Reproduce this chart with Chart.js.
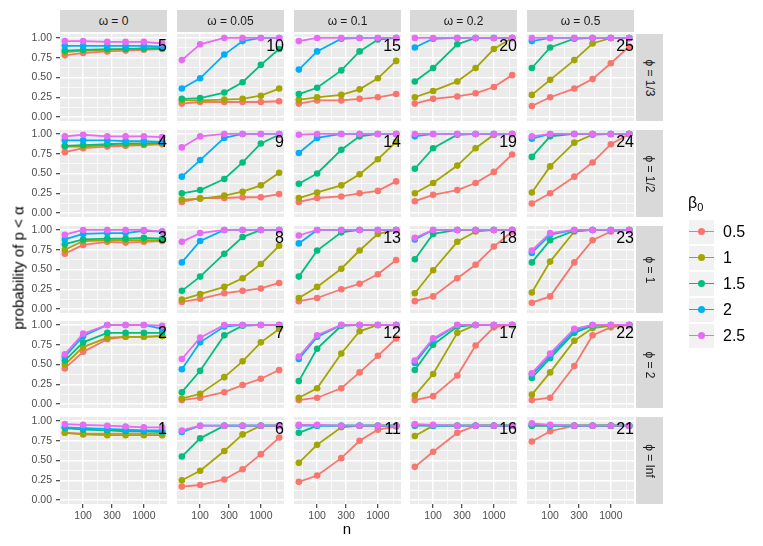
<!DOCTYPE html>
<html>
<head>
<meta charset="utf-8">
<script src="https://cdn.jsdelivr.net/npm/chart.js@4.4.1/dist/chart.umd.min.js"></script>
<style>
  body { margin: 0; background: #fff; font-family: "Liberation Sans", Arial, sans-serif; }
  #wrap { position: relative; width: 763px; height: 546px; overflow: hidden; }
  #wrap canvas { position: absolute; }
  .strip { position: absolute; background: #D9D9D9; color: #1A1A1A; font-size: 12px;
           display: flex; align-items: center; justify-content: center; white-space: nowrap; }
  .strip.side span { transform: rotate(90deg); }
  .title { position: absolute; color: #000; font-size: 15px; white-space: nowrap; }
  .key { position: absolute; left: 689px; width: 25px; height: 24px; background: #F2F2F2; }
  .key .ln { position: absolute; left: 0; right: 0; top: 11.1px; height: 1.8px; }
  .key .pt { position: absolute; left: 9px; top: 8.5px; width: 7px; height: 7px; border-radius: 50%; }
  .klab { position: absolute; left: 723px; font-size: 16px; color: #000; }
</style>
</head>
<body>
<div id="wrap"></div>
<script>
// facets, x values and legend entries
const omegaLabels = ['ω = 0', 'ω = 0.05', 'ω = 0.1', 'ω = 0.2', 'ω = 0.5'];
const phiLabels = ['ϕ = 1/3', 'ϕ = 1/2', 'ϕ = 1', 'ϕ = 2', 'ϕ = Inf'];
const nValues = [50, 100, 250, 500, 1000, 2000];
const betaLabels = ['0.5', '1', '1.5', '2', '2.5'];
const xTicks = [100, 300, 1000];
const yTicks = [0, 0.25, 0.5, 0.75, 1];
const yTickLabels = ['0.00', '0.25', '0.50', '0.75', '1.00'];

// one array per panel (panel number), rows are beta0 = 0.5, 1, 1.5, 2, 2.5
const p1 = [
  [0.85, 0.84, 0.84, 0.84, 0.84, 0.84],
  [0.85, 0.83, 0.82, 0.82, 0.82, 0.82],
  [0.91, 0.89, 0.88, 0.87, 0.87, 0.86],
  [0.92, 0.91, 0.90, 0.89, 0.88, 0.88],
  [0.96, 0.95, 0.94, 0.93, 0.92, 0.92]];
const p2 = [
  [0.45, 0.66, 0.82, 0.85, 0.85, 0.86],
  [0.50, 0.72, 0.84, 0.85, 0.85, 0.86],
  [0.55, 0.78, 0.90, 0.90, 0.90, 0.90],
  [0.60, 0.86, 1.00, 1.00, 1.00, 0.95],
  [0.63, 0.89, 1.00, 1.00, 1.00, 0.99]];
const p3 = [
  [0.70, 0.81, 0.85, 0.84, 0.85, 0.86],
  [0.75, 0.86, 0.87, 0.87, 0.87, 0.87],
  [0.82, 0.88, 0.89, 0.89, 0.90, 0.89],
  [0.88, 0.95, 0.96, 0.96, 0.99, 0.98],
  [0.94, 1.00, 1.00, 1.00, 1.00, 0.98]];
const p4 = [
  [0.77, 0.82, 0.84, 0.85, 0.86, 0.87],
  [0.84, 0.84, 0.86, 0.86, 0.87, 0.88],
  [0.85, 0.86, 0.87, 0.88, 0.88, 0.89],
  [0.92, 0.92, 0.92, 0.91, 0.91, 0.90],
  [0.97, 0.99, 0.97, 0.97, 0.97, 0.96]];
const p5 = [
  [0.78, 0.81, 0.83, 0.84, 0.85, 0.86],
  [0.82, 0.84, 0.85, 0.86, 0.86, 0.87],
  [0.84, 0.85, 0.86, 0.86, 0.87, 0.87],
  [0.90, 0.90, 0.90, 0.90, 0.90, 0.89],
  [0.96, 0.96, 0.95, 0.95, 0.95, 0.93]];
const p6 = [
  [0.17, 0.19, 0.26, 0.39, 0.58, 0.79],
  [0.25, 0.37, 0.62, 0.83, 0.94, 0.94],
  [0.55, 0.78, 0.94, 0.94, 0.94, 0.94],
  [0.86, 0.94, 0.94, 0.94, 0.94, 0.94],
  [0.88, 0.94, 0.94, 0.94, 0.94, 0.94]];
const p7 = [
  [0.05, 0.08, 0.15, 0.24, 0.32, 0.43],
  [0.07, 0.13, 0.34, 0.54, 0.78, 0.95],
  [0.15, 0.42, 0.87, 0.99, 1.00, 1.00],
  [0.44, 0.78, 0.98, 1.00, 1.00, 1.00],
  [0.57, 0.84, 1.00, 1.00, 1.00, 1.00]];
const p8 = [
  [0.09, 0.13, 0.20, 0.23, 0.26, 0.33],
  [0.12, 0.19, 0.28, 0.39, 0.57, 0.80],
  [0.23, 0.41, 0.70, 0.91, 1.00, 1.00],
  [0.59, 0.86, 1.00, 1.00, 1.00, 1.00],
  [0.85, 0.96, 1.00, 1.00, 1.00, 1.00]];
const p9 = [
  [0.14, 0.19, 0.19, 0.20, 0.20, 0.24],
  [0.17, 0.18, 0.22, 0.27, 0.35, 0.51],
  [0.25, 0.29, 0.43, 0.64, 0.88, 0.99],
  [0.46, 0.67, 0.95, 1.00, 1.00, 1.00],
  [0.83, 0.97, 1.00, 1.00, 1.00, 1.00]];
const p10 = [
  [0.17, 0.19, 0.19, 0.19, 0.19, 0.20],
  [0.21, 0.21, 0.22, 0.23, 0.27, 0.36],
  [0.23, 0.24, 0.31, 0.44, 0.66, 0.86],
  [0.36, 0.49, 0.79, 0.96, 1.00, 1.00],
  [0.72, 0.92, 1.00, 1.00, 1.00, 1.00]];
const p11 = [
  [0.23, 0.31, 0.53, 0.75, 0.89, 0.93],
  [0.47, 0.70, 0.92, 0.94, 0.94, 0.94],
  [0.85, 0.94, 0.94, 0.94, 0.94, 0.94],
  [0.94, 0.94, 0.94, 0.94, 0.94, 0.94],
  [0.95, 0.95, 0.94, 0.94, 0.94, 0.94]];
const p12 = [
  [0.05, 0.08, 0.20, 0.40, 0.61, 0.83],
  [0.08, 0.20, 0.64, 0.92, 1.00, 1.00],
  [0.29, 0.70, 0.99, 1.00, 1.00, 1.00],
  [0.57, 0.85, 1.00, 1.00, 1.00, 1.00],
  [0.60, 0.87, 1.00, 1.00, 1.00, 1.00]];
const p13 = [
  [0.10, 0.14, 0.25, 0.32, 0.44, 0.62],
  [0.14, 0.28, 0.51, 0.74, 0.95, 1.00],
  [0.41, 0.74, 0.97, 1.00, 1.00, 1.00],
  [0.83, 1.00, 1.00, 1.00, 1.00, 1.00],
  [0.93, 1.00, 1.00, 1.00, 1.00, 1.00]];
const p14 = [
  [0.14, 0.19, 0.21, 0.25, 0.28, 0.40],
  [0.19, 0.26, 0.35, 0.49, 0.68, 0.90],
  [0.37, 0.50, 0.80, 0.97, 1.00, 1.00],
  [0.76, 0.95, 1.00, 1.00, 1.00, 1.00],
  [0.99, 1.00, 1.00, 1.00, 1.00, 1.00]];
const p15 = [
  [0.17, 0.21, 0.21, 0.23, 0.25, 0.29],
  [0.22, 0.25, 0.28, 0.35, 0.49, 0.71],
  [0.29, 0.37, 0.59, 0.83, 0.98, 1.00],
  [0.60, 0.83, 0.99, 1.00, 1.00, 1.00],
  [0.96, 1.00, 1.00, 1.00, 1.00, 1.00]];
const p16 = [
  [0.42, 0.61, 0.85, 0.94, 0.94, 0.94],
  [0.81, 0.94, 0.94, 0.94, 0.94, 0.94],
  [0.94, 0.94, 0.94, 0.94, 0.94, 0.94],
  [0.95, 0.94, 0.94, 0.94, 0.94, 0.94],
  [0.96, 0.95, 0.94, 0.94, 0.94, 0.94]];
const p17 = [
  [0.05, 0.10, 0.36, 0.74, 0.97, 1.00],
  [0.11, 0.38, 0.90, 1.00, 1.00, 1.00],
  [0.43, 0.75, 0.98, 1.00, 1.00, 1.00],
  [0.52, 0.81, 1.00, 1.00, 1.00, 1.00],
  [0.55, 0.83, 1.00, 1.00, 1.00, 1.00]];
const p18 = [
  [0.10, 0.16, 0.39, 0.56, 0.79, 0.98],
  [0.20, 0.49, 0.85, 0.98, 1.00, 1.00],
  [0.63, 0.95, 1.00, 1.00, 1.00, 1.00],
  [0.88, 1.00, 1.00, 1.00, 1.00, 1.00],
  [0.90, 1.00, 1.00, 1.00, 1.00, 1.00]];
const p19 = [
  [0.15, 0.23, 0.29, 0.38, 0.52, 0.74],
  [0.25, 0.38, 0.60, 0.82, 0.99, 1.00],
  [0.56, 0.82, 0.99, 1.00, 1.00, 1.00],
  [0.97, 1.00, 1.00, 1.00, 1.00, 1.00],
  [1.00, 1.00, 1.00, 1.00, 1.00, 1.00]];
const p20 = [
  [0.17, 0.23, 0.26, 0.30, 0.38, 0.53],
  [0.25, 0.33, 0.45, 0.62, 0.86, 1.00],
  [0.45, 0.62, 0.92, 1.00, 1.00, 1.00],
  [0.88, 0.99, 1.00, 1.00, 1.00, 1.00],
  [1.00, 1.00, 1.00, 1.00, 1.00, 1.00]];
const p21 = [
  [0.74, 0.87, 0.94, 0.94, 0.94, 0.94],
  [0.94, 0.94, 0.94, 0.94, 0.94, 0.94],
  [0.94, 0.94, 0.94, 0.94, 0.94, 0.94],
  [0.95, 0.94, 0.94, 0.94, 0.94, 0.94],
  [0.97, 0.95, 0.94, 0.94, 0.94, 0.94]];
const p22 = [
  [0.05, 0.08, 0.48, 0.87, 0.97, 1.00],
  [0.12, 0.40, 0.80, 0.96, 0.99, 1.00],
  [0.33, 0.58, 0.90, 0.99, 1.00, 1.00],
  [0.37, 0.61, 0.93, 1.00, 1.00, 1.00],
  [0.39, 0.64, 0.95, 1.00, 1.00, 1.00]];
const p23 = [
  [0.08, 0.16, 0.59, 0.87, 0.98, 1.00],
  [0.21, 0.60, 0.98, 1.00, 1.00, 1.00],
  [0.59, 0.87, 0.99, 1.00, 1.00, 1.00],
  [0.71, 0.94, 1.00, 1.00, 1.00, 1.00],
  [0.74, 0.96, 1.00, 1.00, 1.00, 1.00]];
const p24 = [
  [0.12, 0.25, 0.46, 0.64, 0.87, 1.00],
  [0.26, 0.59, 0.89, 0.99, 1.00, 1.00],
  [0.71, 0.97, 1.00, 1.00, 1.00, 1.00],
  [0.94, 1.00, 1.00, 1.00, 1.00, 1.00],
  [0.97, 1.00, 1.00, 1.00, 1.00, 1.00]];
const p25 = [
  [0.14, 0.25, 0.36, 0.48, 0.68, 0.89],
  [0.28, 0.47, 0.72, 0.93, 1.00, 1.00],
  [0.62, 0.88, 0.99, 1.00, 1.00, 1.00],
  [0.96, 1.00, 1.00, 1.00, 1.00, 1.00],
  [1.00, 1.00, 1.00, 1.00, 1.00, 1.00]];

const panelData = [p1, p2, p3, p4, p5, p6, p7, p8, p9, p10, p11, p12, p13, p14, p15,
                   p16, p17, p18, p19, p20, p21, p22, p23, p24, p25];

const colors = ['#F8766D', '#A3A500', '#00BF7D', '#00B0F6', '#E76BF3'];
const FONT = '"Liberation Sans", Arial, Helvetica, sans-serif';
Chart.defaults.font.family = FONT;

// layout of the facet grid
const panelLefts = [60, 177, 294, 410, 527];
const panelTops = [34, 130, 226, 321, 417];
const PW = 107, PH = 87, PAD = 8;

// minor grid lines sit halfway between the major ones (in log space for n)
const logMajors = xTicks.map(Math.log10);
const ext = [2 * logMajors[0] - logMajors[1], ...logMajors,
             2 * logMajors[logMajors.length - 1] - logMajors[logMajors.length - 2]];
const xMinor = [];
for (let i = 0; i < ext.length - 1; i++) xMinor.push(Math.pow(10, (ext[i] + ext[i + 1]) / 2));
const xGrid = [...xMinor, ...xTicks].sort((a, b) => a - b);
const yMinor = [0.125, 0.375, 0.625, 0.875];
const yGrid = [...yMinor, ...yTicks].sort((a, b) => a - b);

const isMajorX = v => xTicks.some(t => Math.abs(t - v) < 1e-6);
const isMajorY = v => yTicks.some(t => Math.abs(t - v) < 1e-6);

const panelBg = {
  id: 'panelBg',
  beforeDraw(chart) {
    const a = chart.chartArea, ctx = chart.ctx;
    ctx.save();
    ctx.fillStyle = '#EBEBEB';
    ctx.fillRect(a.left, a.top, a.right - a.left, a.bottom - a.top);
    ctx.restore();
  }
};

const panelNumber = {
  id: 'panelNumber',
  afterDatasetsDraw(chart, args, opts) {
    const a = chart.chartArea, ctx = chart.ctx;
    ctx.save();
    ctx.font = '16px ' + FONT;
    ctx.fillStyle = '#000';
    ctx.textAlign = 'right';
    ctx.textBaseline = 'middle';
    ctx.fillText(String(opts.num), a.right, chart.scales.y.getPixelForValue(0.885));
    ctx.restore();
  }
};

const wrap = document.getElementById('wrap');

function makePanel(r, c) {
  const id = c * 5 + (5 - r);
  const values = panelData[id - 1];
  const axisW = c === 0 ? 60 : 0;
  const axisH = r === 4 ? 26 : 0;

  const cv = document.createElement('canvas');
  cv.width = PW + axisW + 2 * PAD;
  cv.height = PH + axisH + 2 * PAD;
  cv.style.left = (panelLefts[c] - axisW - PAD) + 'px';
  cv.style.top = (panelTops[r] - PAD) + 'px';
  wrap.appendChild(cv);

  new Chart(cv, {
    type: 'line',
    data: {
      datasets: values.map((ys, i) => ({
        label: betaLabels[i],
        data: nValues.map((n, j) => ({ x: n, y: ys[j] })),
        borderColor: colors[i],
        backgroundColor: colors[i],
        borderWidth: 1.8,
        pointRadius: 3.3,
        pointBorderWidth: 0,
        order: 4 - i,
        clip: false
      }))
    },
    options: {
      responsive: false,
      animation: false,
      events: [],
      layout: { padding: PAD },
      plugins: { legend: { display: false }, tooltip: { enabled: false }, panelNumber: { num: id } },
      scales: {
        x: {
          type: 'logarithmic',
          min: 41.6,
          max: 2404,
          afterBuildTicks: s => { s.ticks = xGrid.map(v => ({ value: v })); },
          afterFit: s => {
            s.height = axisH;
            s.paddingLeft = s.paddingRight = s.paddingTop = s.paddingBottom = 0;
          },
          border: { display: false },
          grid: {
            color: '#FFFFFF',
            lineWidth: ctx => (ctx.tick && isMajorX(ctx.tick.value)) ? 1.4 : 0.7,
            drawTicks: r === 4,
            tickLength: 4,
            tickWidth: 1.1,
            tickColor: ctx => (ctx.tick && isMajorX(ctx.tick.value)) ? '#333333' : 'rgba(0,0,0,0)'
          },
          ticks: {
            display: r === 4,
            autoSkip: false,
            maxRotation: 0,
            minRotation: 0,
            padding: 2,
            color: '#4D4D4D',
            font: { size: 10.5 },
            callback: v => isMajorX(v) ? String(Math.round(v)) : ''
          }
        },
        y: {
          min: -0.05,
          max: 1.05,
          afterBuildTicks: s => { s.ticks = yGrid.map(v => ({ value: v })); },
          afterFit: s => {
            s.width = axisW;
            s.paddingLeft = s.paddingRight = s.paddingTop = s.paddingBottom = 0;
          },
          border: { display: false },
          grid: {
            color: '#FFFFFF',
            lineWidth: ctx => (ctx.tick && isMajorY(ctx.tick.value)) ? 1.4 : 0.7,
            drawTicks: c === 0,
            tickLength: 4,
            tickWidth: 1.1,
            tickColor: ctx => (ctx.tick && isMajorY(ctx.tick.value)) ? '#333333' : 'rgba(0,0,0,0)'
          },
          ticks: {
            display: c === 0,
            autoSkip: false,
            padding: 4,
            color: '#4D4D4D',
            font: { size: 10.5 },
            callback: v => {
              const k = yTicks.findIndex(t => Math.abs(t - v) < 1e-6);
              return k >= 0 ? yTickLabels[k] : '';
            }
          }
        }
      }
    },
    plugins: [panelBg, panelNumber]
  });
}

for (let r = 0; r < 5; r++) for (let c = 0; c < 5; c++) makePanel(r, c);

// facet strips
omegaLabels.forEach((t, c) => {
  const d = document.createElement('div');
  d.className = 'strip';
  d.style.cssText = `left:${panelLefts[c]}px;top:10px;width:${PW}px;height:22px;`;
  d.textContent = t;
  wrap.appendChild(d);
});
phiLabels.forEach((t, r) => {
  const d = document.createElement('div');
  d.className = 'strip side';
  d.style.cssText = `left:636px;top:${panelTops[r]}px;width:27px;height:${PH}px;`;
  const s = document.createElement('span');
  s.textContent = t;
  d.appendChild(s);
  wrap.appendChild(d);
});

// axis titles
const yt = document.createElement('div');
yt.className = 'title';
yt.style.cssText = 'left:18px;top:268px;transform:translate(-50%,-50%) rotate(-90deg);';
yt.textContent = 'probability of p < α';
wrap.appendChild(yt);
const xt = document.createElement('div');
xt.className = 'title';
xt.style.cssText = 'left:347px;top:528px;transform:translate(-50%,-50%);';
xt.textContent = 'n';
wrap.appendChild(xt);

// legend
const lt = document.createElement('div');
lt.className = 'title';
lt.style.cssText = 'left:688px;top:203px;transform:translateY(-50%);font-size:16px;';
lt.innerHTML = 'β<sub style="font-size:11px;vertical-align:-3px">0</sub>';
wrap.appendChild(lt);
betaLabels.forEach((b, i) => {
  const top = 219.5 + i * 26;
  const k = document.createElement('div');
  k.className = 'key';
  k.style.top = top + 'px';
  k.innerHTML = `<div class="ln" style="background:${colors[i]}"></div><div class="pt" style="background:${colors[i]}"></div>`;
  wrap.appendChild(k);
  const l = document.createElement('div');
  l.className = 'klab';
  l.style.cssText = `top:${top + 12}px;transform:translateY(-50%);`;
  l.textContent = b;
  wrap.appendChild(l);
});
</script>
</body>
</html>
